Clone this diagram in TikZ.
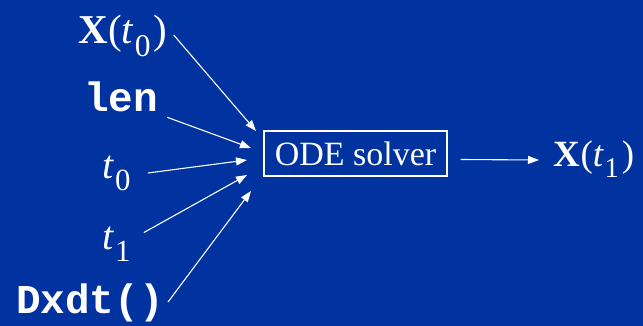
\documentclass[tikz,border=0pt]{standalone}
\usepackage{fontspec}
\setmainfont{Liberation Serif}
\setmonofont{Liberation Mono}
\usetikzlibrary{arrows.meta}
\definecolor{bg}{RGB}{0,51,160}
\newcommand{\tsb}[1]{\textit{t}\kern0.02em\raisebox{-0.3em}{\scalebox{0.77}{#1}}\kern0.08em}
\tikzset{
  lbl/.style={text=white, inner sep=0pt, font=\fontsize{40}{44}\selectfont},
  code/.style={text=white, inner sep=0pt, font=\fontsize{41}{44}\selectfont\ttfamily\bfseries},
  arr/.style={draw=white, line width=1.1pt, -{Triangle[length=11pt,width=8pt]}},
}
\begin{document}
\begin{tikzpicture}[x=1pt,y=-1pt]
\fill[bg] (0,0) rectangle (643,326);
\useasboundingbox (0,0) rectangle (643,326);
\node[lbl, font=\fontsize{41}{44}\selectfont] (x0) at (123,36) {\textbf{X}(\tsb{0})};
\node[code] (len) at (121,97) {len};
\node[lbl] (t0) at (118,173) {\tsb{0}};
\node[lbl] (t1) at (118,244) {\tsb{1}};
\node[code] (dxdt) at (90,303) {Dxdt()};
\node[draw=white, line width=1.3pt, text=white, minimum width=183pt, minimum height=45pt, inner sep=0pt, font=\fontsize{34}{36}\selectfont] (ode) at (355.5,153.5) {ODE solver};
\node[lbl, font=\fontsize{37}{40}\selectfont] (x1) at (594,159) {\textbf{X}(\tsb{1})};
\coordinate (a1) at (256,131);
\coordinate (a2) at (251,148);
\coordinate (a3) at (247,160);
\coordinate (a4) at (247,175);
\coordinate (a5) at (251,191);
\coordinate (o1) at (539,160);
\draw[arr] ([xshift=6pt,yshift=1pt]x0.east) -- (a1);
\draw[arr] ([xshift=9pt,yshift=-5pt]len.south east) -- (a2);
\draw[arr] ([xshift=14pt,yshift=0pt]t0.east) -- (a3);
\draw[arr] ([xshift=10pt,yshift=-6pt]t1.north east) -- (a4);
\draw[arr] ([xshift=4pt,yshift=1pt]dxdt.east) -- (a5);
\draw[arr] ([xshift=13pt,yshift=-6pt]ode.east) -- (o1);
\end{tikzpicture}
\end{document}
